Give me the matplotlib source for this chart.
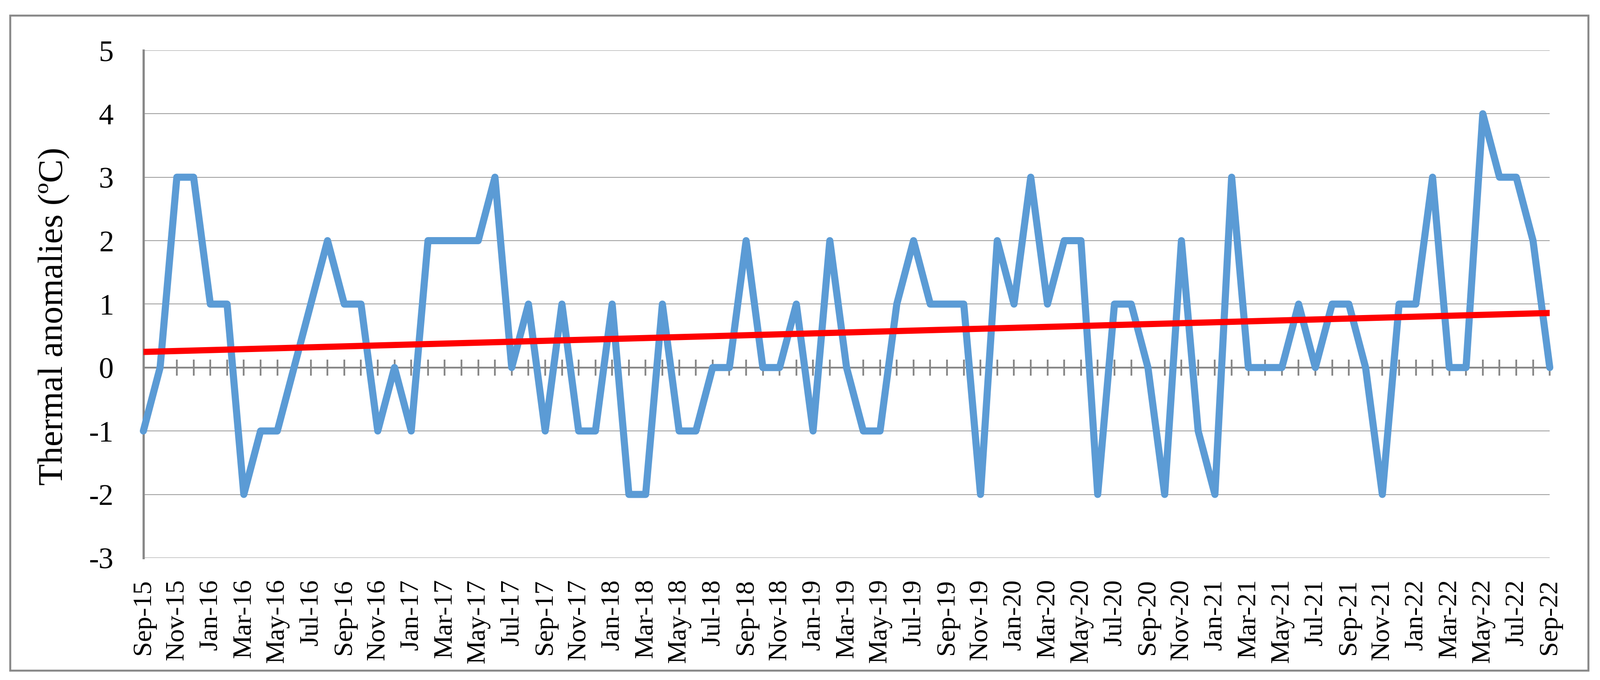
import numpy as np
import pandas as pd
import matplotlib
matplotlib.use("Agg")
import matplotlib.pyplot as plt
from matplotlib.patches import Rectangle

# monthly thermal anomalies, Sep-2015 .. Sep-2022
months = pd.date_range("2015-09-01", periods=85, freq="MS").strftime("%b-%y").tolist()
anomalies = [-1, 0, 3, 3, 1, 1, -2, -1, -1, 0,
             1, 2, 1, 1, -1, 0, -1, 2, 2, 2,
             2, 3, 0, 1, -1, 1, -1, -1, 1, -2,
             -2, 1, -1, -1, 0, 0, 2, 0, 0, 1,
             -1, 2, 0, -1, -1, 1, 2, 1, 1, 1,
             -2, 2, 1, 3, 1, 2, 2, -2, 1, 1,
             0, -2, 2, -1, -2, 3, 0, 0, 0, 1,
             0, 1, 1, 0, -2, 1, 1, 3, 0, 0,
             4, 3, 3, 2, 0]
y_ticks = [-3, -2, -1, 0, 1, 2, 3, 4, 5]

plt.rcParams['font.family'] = ['Liberation Serif', 'DejaVu Serif']
plt.rcParams['axes.unicode_minus'] = False

grey = '#898989'
x = np.arange(len(months))

fig = plt.figure(figsize=(35.92, 15.26), dpi=100)
ax = fig.add_axes([0.0896, 0.1796, 0.8790, 0.7464])

# grid + axes look (Excel style)
ax.set_ylim(-3, 5)
ax.set_xlim(0, len(months) - 1)
ax.set_yticks(y_ticks)
ax.grid(axis='y', color=grey, linewidth=1.1)
ax.set_axisbelow(True)
ax.tick_params(axis='y', length=0, pad=48, labelsize=48)
for s in ['top', 'right']:
    ax.spines[s].set_visible(False)
ax.spines['left'].set_color(grey)
ax.spines['left'].set_linewidth(3.6)
ax.spines['bottom'].set_position(('data', 0))
ax.spines['bottom'].set_color(grey)
ax.spines['bottom'].set_linewidth(2.9)
ax.set_xticks(x)
ax.tick_params(axis='x', direction='inout', length=26, width=2.9, color=grey,
               labelbottom=False)

# labels at the bottom of the plot area
sec = ax.secondary_xaxis(0)
sec.set_xticks(x[::2], months[::2])
sec.tick_params(length=0, pad=34, labelsize=43, rotation=90)
sec.spines['bottom'].set_visible(False)

ax.plot(x, anomalies, color='#5B9BD5', linewidth=11.5, solid_joinstyle='round',
        solid_capstyle='round', zorder=3, clip_on=False)

# linear trend
slope, icpt = np.polyfit(x, anomalies, 1)
ax.plot(x, slope * x + icpt, color='#FF0000', linewidth=10, zorder=4)

fig.text(120 / 3592, 1 - 710 / 1526, 'Thermal anomalies (ºC)', rotation=90,
         ha='center', va='center', fontsize=57)

fig.patches.append(Rectangle((23 / 3592, 1 - 1505 / 1526), 3543 / 3592, 1470 / 1526,
                             transform=fig.transFigure, fill=False,
                             edgecolor=grey, linewidth=3.2))

fig.savefig('out.png', dpi=100)
